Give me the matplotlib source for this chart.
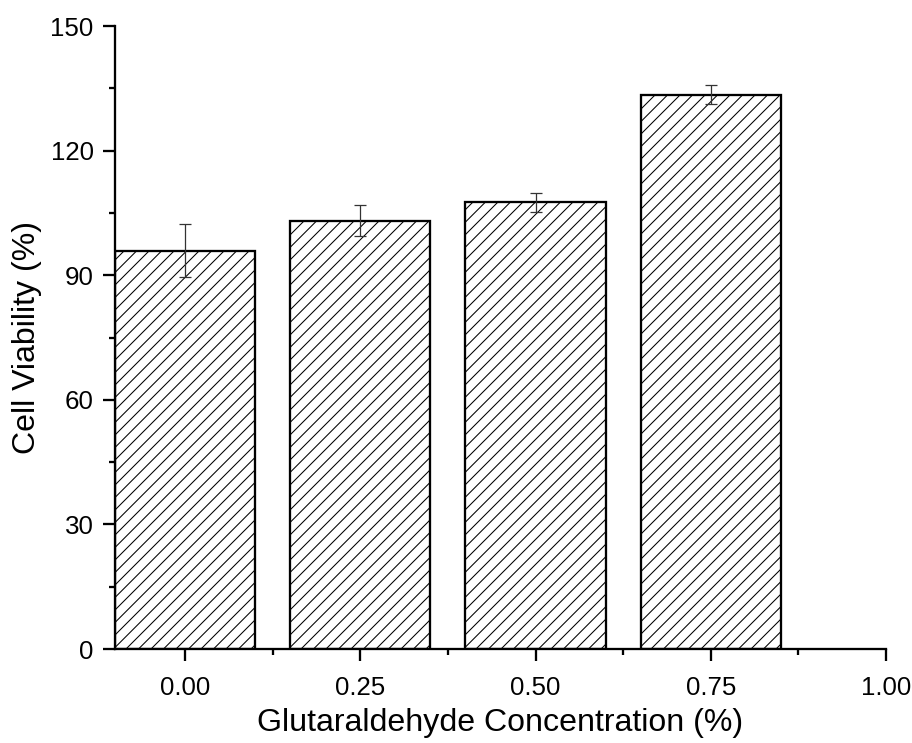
import matplotlib.pyplot as plt
from matplotlib.ticker import MultipleLocator

plt.rcParams['font.family'] = ['Liberation Sans', 'DejaVu Sans']
plt.rcParams['hatch.linewidth'] = 0.5

# data
conc = [0.00, 0.25, 0.50, 0.75]
viability = [95.9, 103.1, 107.6, 133.5]
err = [6.4, 3.7, 2.3, 2.2]

fig = plt.figure(figsize=(912 / 150, 743 / 150), dpi=150)
ax = fig.add_axes([0.1261, 0.1265, 0.8454, 0.8385])

ax.bar(conc, viability, width=0.2, color='white', edgecolor='black',
       linewidth=1.1, hatch='////', zorder=2)
ax.errorbar(conc, viability, yerr=err, fmt='none', ecolor='#333333',
            elinewidth=0.6, capsize=3.0, capthick=0.6, zorder=3)

ax.set_xlim(-0.1, 1.0)
ax.set_ylim(0, 150)
ax.xaxis.set_major_locator(MultipleLocator(0.25))
ax.xaxis.set_minor_locator(MultipleLocator(0.125))
ax.yaxis.set_major_locator(MultipleLocator(30))
ax.yaxis.set_minor_locator(MultipleLocator(15))
ax.xaxis.set_major_formatter(plt.FuncFormatter(lambda v, p: '%.2f' % v))

for s in ['top', 'right']:
    ax.spines[s].set_visible(False)
for s in ['left', 'bottom']:
    ax.spines[s].set_linewidth(1.1)

ax.tick_params(which='major', direction='out', length=5.8, width=1.1,
               labelsize=12.4)
ax.tick_params(axis='x', which='major', pad=7)
ax.tick_params(axis='y', which='major', pad=4.5)
ax.tick_params(which='minor', direction='out', length=3.0, width=1.1)

ax.set_xlabel('Glutaraldehyde Concentration (%)', fontsize=15.4, labelpad=4)
ax.set_ylabel('Cell Viability (%)', fontsize=15.4, labelpad=4)

fig.savefig('out.png', dpi=150)
